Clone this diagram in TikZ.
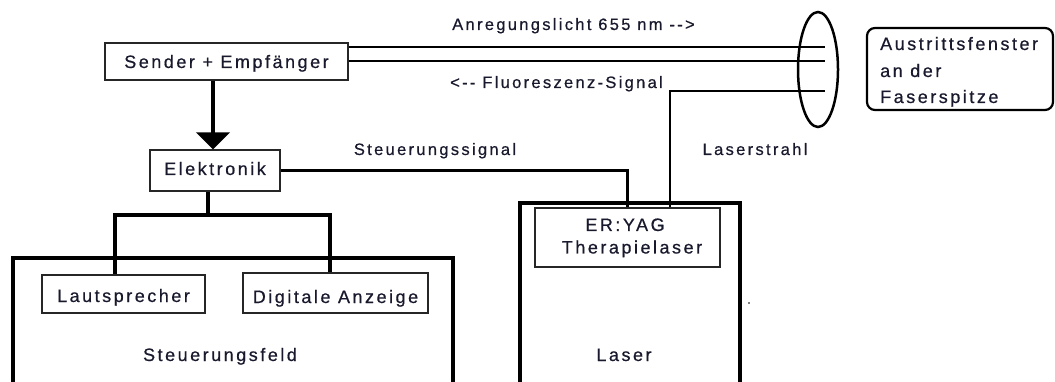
\documentclass[tikz,border=0pt]{standalone}
\usepackage{fontspec}
\setmainfont{Liberation Sans}[LetterSpace=14, FakeBold=0.6]
\usetikzlibrary{shapes.geometric,arrows.meta}
\definecolor{textc}{RGB}{25,25,45}
\newcommand\mainsz{\fontsize{18}{22}\selectfont}
\newcommand\lblsz{\fontsize{16.5}{20}\selectfont}
\begin{document}
\begin{tikzpicture}[x=1pt,y=-1pt,
  box/.style={draw=black!85, line width=1.2pt, inner sep=0pt, font=\mainsz, text=textc},
  txt/.style={inner sep=0pt, anchor=base, font=\mainsz, text=textc},
  lbl/.style={inner sep=0pt, anchor=base, font=\lblsz, text=textc},
  fiber/.style={line width=2.8pt},
  wire/.style={line width=3.2pt},
  heavy/.style={draw, line width=3.2pt, inner sep=0pt}]
\useasboundingbox (0,0) rectangle (1055,382);

% boxes
\node[box, minimum width=243pt, minimum height=37pt, text height=25pt, text depth=12pt] (sender) at (226.5,61.5) {Sender + Empfänger};
\node[box, minimum width=130pt, minimum height=41pt, text height=25pt, text depth=16pt] (elek) at (215,170.5) {Elektronik};
\node[heavy, minimum width=440pt, minimum height=142pt] (feld) at (233,329) {};
\node[heavy, minimum width=220pt, minimum height=197pt] (laser) at (630,301.5) {};
\node[box, minimum width=163pt, minimum height=38pt, text height=27pt, text depth=11pt] (laut) at (123.5,294) {Lautsprecher};
\node[box, minimum width=185pt, minimum height=40pt, text height=30pt, text depth=10pt] (digi) at (335.5,293) {Digitale Anzeige};
\node[box, minimum width=185pt, minimum height=59pt] (erbox) at (627.5,237.5) {};
\node[txt] (ert1) at (625,231) {ER:YAG};
\node[txt] (ert2) at (632,253.5) {Therapielaser};
\node[txt] (feldt) at (220,361) {Steuerungsfeld};
\node[txt] (lasert) at (624,361) {Laser};

% fiber end
\node[draw, ellipse, line width=2.5pt, minimum width=40pt, minimum height=115pt, inner sep=0pt] (fib) at (818,69.5) {};
\coordinate (fibA) at (825,47);
\coordinate (fibB) at (825,61);
\coordinate (fibC) at (825,91);

\node[draw, line width=2.2pt, rounded corners=8pt, minimum width=186pt, minimum height=82pt, inner sep=0pt] (fenster) at (960,69) {};
\node[txt, anchor=base west] (f1) at (880,50) {Austrittsfenster};
\node[txt, anchor=base west] (f2) at (880,77) {an der};
\node[txt, anchor=base west] (f3) at (880,103) {Faserspitze};

% labels
\node[lbl] (anr) at (573.5,30) {Anregungslicht 655 nm -{}->};
\node[lbl] (flu) at (556.5,88) {<-{}- Fluoreszenz-Signal};
\node[lbl] (steu) at (435,155) {Steuerungssignal};
\node[lbl] (lstr) at (755,155) {Laserstrahl};

% connectors
\draw[fiber] (sender.east |- fibA) -- (fibA);
\draw[fiber] (sender.east |- fibB) -- (fibB);
\draw[fiber] ([xshift=42.5pt]erbox.north) |- (fibC);
\draw[wire] (elek.east) -| (erbox.north);
\draw[line width=4.5pt, -{Triangle[length=17pt,width=33pt]}] ([xshift=-13.5pt]sender.south) -- ([xshift=-2pt]elek.north);
\coordinate (jn) at (208,215);
\draw[wire] (elek.south -| jn) -- (jn);
\draw[wire] ([xshift=-8.5pt]laut.north) |- (jn) -| ([xshift=-5.5pt]digi.north);

\fill (749,303) circle (0.9pt);
\end{tikzpicture}
\end{document}
